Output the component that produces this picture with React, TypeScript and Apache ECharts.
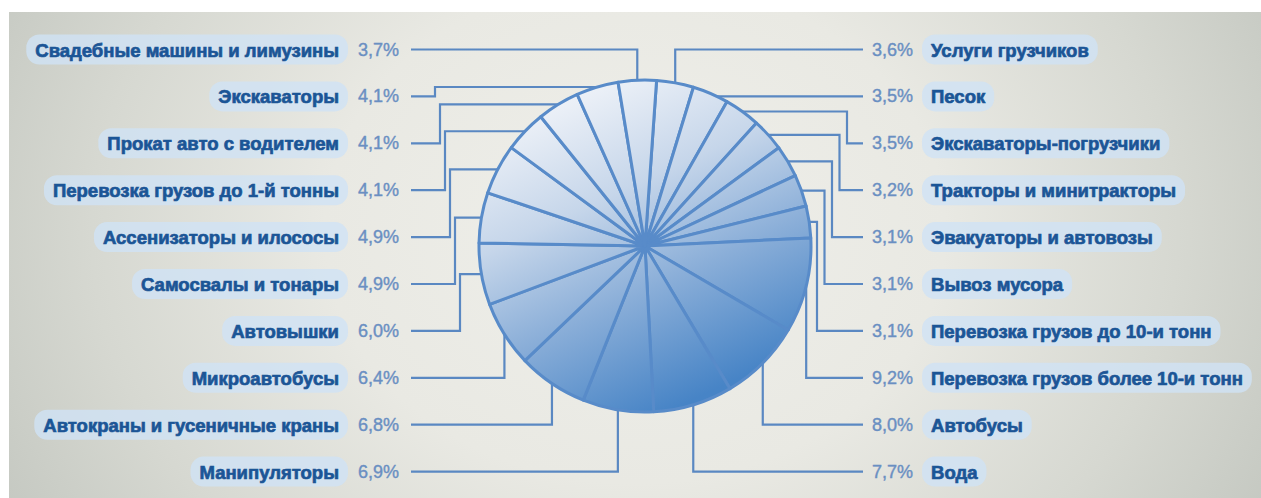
import React, { useEffect, useRef } from 'react';
import * as echarts from 'echarts';

// ---- data ----
const categories: string[] = [
  'Услуги грузчиков',
  'Песок',
  'Экскаваторы-погрузчики',
  'Тракторы и минитракторы',
  'Эвакуаторы и автовозы',
  'Вывоз мусора',
  'Перевозка грузов до 10-и тонн',
  'Перевозка грузов более 10-и тонн',
  'Автобусы',
  'Вода',
  'Манипуляторы',
  'Автокраны и гусеничные краны',
  'Микроавтобусы',
  'Автовышки',
  'Самосвалы и тонары',
  'Ассенизаторы и илососы',
  'Перевозка грузов до 1-й тонны',
  'Прокат авто с водителем',
  'Экскаваторы',
  'Свадебные машины и лимузины',
];
const shares: number[] = [3.6, 3.5, 3.5, 3.2, 3.1, 3.1, 3.1, 9.2, 8.0, 7.7, 6.9, 6.8, 6.4, 6.0, 4.9, 4.9, 4.1, 4.1, 4.1, 3.7];
const shareLabels: string[] = shares.map((v) => v.toFixed(1).replace('.', ',') + '%');

// ---- layout ----
const W = 1261;
const H = 498;
const CX = 645;
const CY = 246;
const R = 166;
const START_ANGLE = 86;
const ROW_TOP = 49.5;
const ROW_STEP = 46.9;
const LEFT_LINE_X = 411;
const RIGHT_LINE_X = 863;
const LEFT_TEXT_X = 399;
const RIGHT_TEXT_X = 872;
const FONT = '"Liberation Sans", Arial, sans-serif';

const total = shares.reduce((a, b) => a + b, 0);

function midTheta(i: number): number {
  let cum = 0;
  for (let j = 0; j < i; j++) cum += shares[j];
  return (90 - START_ANGLE) + ((cum + shares[i] / 2) / total) * 360;
}

const thetas = shares.map((_, i) => midTheta(i));
const isRight = thetas.map((t) => ((t % 360) + 360) % 360 < 180);
const rightIdx = thetas.map((_, i) => i).filter((i) => isRight[i]).sort((a, b) => thetas[a] - thetas[b]);
const leftIdx = thetas.map((_, i) => i).filter((i) => !isRight[i]).sort((a, b) => thetas[b] - thetas[a]);
function rowOf(i: number): number {
  return isRight[i] ? rightIdx.indexOf(i) : leftIdx.indexOf(i);
}

function leader(i: number): number[][] {
  const rad = (thetas[i] * Math.PI) / 180;
  const ax = CX + R * Math.sin(rad);
  const ay = CY - R * Math.cos(rad);
  const right = isRight[i];
  const row = rowOf(i);
  const y = ROW_TOP + row * ROW_STEP;
  const endX = right ? RIGHT_LINE_X : LEFT_LINE_X;
  const topHalf = Math.cos(rad) > 0;
  const direct = row >= 7 || (topHalf && y <= ay + 6);
  let ex: number;
  if (direct) ex = ax;
  else ex = right ? CX + R + 36 - 7.5 * (row - 2) : CX - R - 44 + 5 * (row - 1);
  return [[ax, ay], [ex, ay], [ex, y], [endX, y]];
}

export default function App() {
  const ref = useRef<HTMLDivElement>(null);
  useEffect(() => {
    if (!ref.current) return;
    const chart = echarts.init(ref.current, null, { renderer: 'svg' });
    const fill = new echarts.graphic.LinearGradient(
      CX - 0.4 * R, CY - R, CX + 0.45 * R, CY + 0.85 * R,
      [
        { offset: 0, color: '#f1f4f9' },
        { offset: 0.35, color: '#c6d6ea' },
        { offset: 0.65, color: '#8aaed8' },
        { offset: 1, color: '#4784c6' },
      ],
      true
    );
    chart.setOption({
      animation: false,
      backgroundColor: 'transparent',
      series: [
        {
          type: 'pie',
          center: [CX, CY],
          radius: [0, R],
          startAngle: START_ANGLE,
          clockwise: true,
          silent: true,
          avoidLabelOverlap: false,
          emphasis: { disabled: true },
          itemStyle: { color: fill, borderColor: '#588bc9', borderWidth: 3 },
          label: {
            show: true,
            position: 'outside',
            formatter: (p: any) => {
              const i = p.dataIndex;
              return isRight[i]
                ? `{pr|${shareLabels[i]}}{n|${categories[i]}}`
                : `{n|${categories[i]}}{pl|${shareLabels[i]}}`;
            },
            rich: {
              n: {
                fontFamily: FONT,
                fontWeight: 'bold',
                fontSize: 18.5,
                color: '#1b5596',
                textBorderColor: '#1b5596',
                textBorderWidth: 0.7,
                backgroundColor: 'rgba(208,226,245,0.8)',
                borderRadius: 13,
                padding: [6, 9, 5, 9],
              },
              pl: {
                fontFamily: FONT,
                fontSize: 18,
                color: '#6a8fc2',
                textBorderColor: '#6a8fc2',
                textBorderWidth: 0.4,
                padding: [0, 0, 0, 10],
              },
              pr: {
                fontFamily: FONT,
                fontSize: 18,
                color: '#6a8fc2',
                textBorderColor: '#6a8fc2',
                textBorderWidth: 0.4,
                padding: [0, 9, 0, 0],
              },
            },
          },
          labelLine: {
            show: true,
            length: 10,
            length2: 10,
            smooth: false,
            lineStyle: { color: '#5a88c2', width: 2.2 },
          },
          labelLayout: (params: any) => {
            const i = params.dataIndex;
            const right = isRight[i];
            const y = ROW_TOP + rowOf(i) * ROW_STEP;
            return {
              x: right ? RIGHT_TEXT_X : LEFT_TEXT_X,
              y,
              align: right ? 'left' : 'right',
              verticalAlign: 'middle',
              labelLinePoints: leader(i),
            };
          },
          data: categories.map((name, i) => ({ name, value: shares[i] })),
        },
      ],
    });
    return () => chart.dispose();
  }, []);

  return (
    <div style={{ position: 'absolute', left: 0, top: 0, width: W, height: H, background: '#ffffff' }}>
      <div
        style={{
          position: 'absolute',
          left: 9,
          top: 12,
          right: 0,
          bottom: 0,
          background:
            'radial-gradient(ellipse 62% 130% at 50% 45%, #efefea 0%, #e9e9e3 40%, #d6d8d1 70%, #bfc3bc 100%)',
        }}
      />
      <div ref={ref} style={{ position: 'absolute', left: 0, top: 0, width: W, height: H }} />
    </div>
  );
}
